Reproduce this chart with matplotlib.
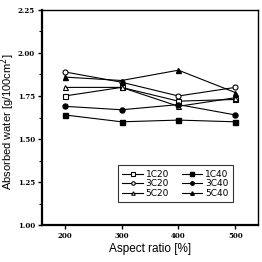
import numpy as np
import matplotlib
matplotlib.use('Agg')
import matplotlib.pyplot as plt
from matplotlib.ticker import MultipleLocator


aspect = [200, 300, 400, 500]

c1_20 = [1.75, 1.80, 1.72, 1.73]
c1_40 = [1.64, 1.60, 1.61, 1.60]
c3_20 = [1.89, 1.83, 1.75, 1.80]
c3_40 = [1.69, 1.67, 1.70, 1.64]
c5_20 = [1.80, 1.80, 1.69, 1.74]
c5_40 = [1.86, 1.84, 1.90, 1.77]

fig = plt.figure(figsize=(2.62, 2.62), dpi=100)
ax = fig.add_axes([0.160, 0.141, 0.825, 0.821])

ms = 3.6
lw = 0.8
# order chosen so ncol=2 puts the C20 series in the first column
ax.plot(aspect, c1_20, '-s', color='k', mfc='white', ms=ms, lw=lw, mew=0.8, label='1C20')
ax.plot(aspect, c3_20, '-o', color='k', mfc='white', ms=ms, lw=lw, mew=0.8, label='3C20')
ax.plot(aspect, c5_20, '-^', color='k', mfc='white', ms=ms, lw=lw, mew=0.8, label='5C20')
ax.plot(aspect, c1_40, '-s', color='k', ms=ms, lw=lw, label='1C40')
ax.plot(aspect, c3_40, '-o', color='k', ms=ms, lw=lw, label='3C40')
ax.plot(aspect, c5_40, '-^', color='k', ms=ms, lw=lw, label='5C40')

ax.set_xlim(160, 540)
ax.set_ylim(1.0, 2.25)
ax.set_xticks(aspect)
ax.yaxis.set_major_locator(MultipleLocator(0.25))
ax.yaxis.set_minor_locator(MultipleLocator(0.125))
ax.tick_params(direction='out', length=3, width=1, labelsize=5, pad=2)
ax.tick_params(which='minor', direction='out', length=2, width=0.8)
for lab in ax.get_xticklabels() + ax.get_yticklabels():
    lab.set_fontweight('bold')
    lab.set_family('DejaVu Serif')
ax.yaxis.set_major_formatter(plt.FormatStrFormatter('%.2f'))

ax.spines['left'].set_linewidth(1.6)
ax.spines['bottom'].set_linewidth(1.6)
ax.spines['top'].set_linewidth(1.0)
ax.spines['right'].set_linewidth(1.0)

ax.set_xlabel('Aspect ratio [%]', fontsize=8.5, family='Liberation Sans', labelpad=2)
ax.set_ylabel('Absorbed water [g/100cm$^2$]', fontsize=8, family='Liberation Sans')
ax.yaxis.set_label_coords(-0.113, 0.48)

leg = ax.legend(ncol=2, loc='lower right', bbox_to_anchor=(0.905, 0.085), fontsize=6.5,
                frameon=True, fancybox=False, edgecolor='k', handlelength=2.3,
                handletextpad=0.3, columnspacing=1.4, labelspacing=0.05, borderpad=0.5,
                markerscale=0.7)
leg.get_frame().set_linewidth(0.8)

plt.savefig('out.png', dpi=100)
